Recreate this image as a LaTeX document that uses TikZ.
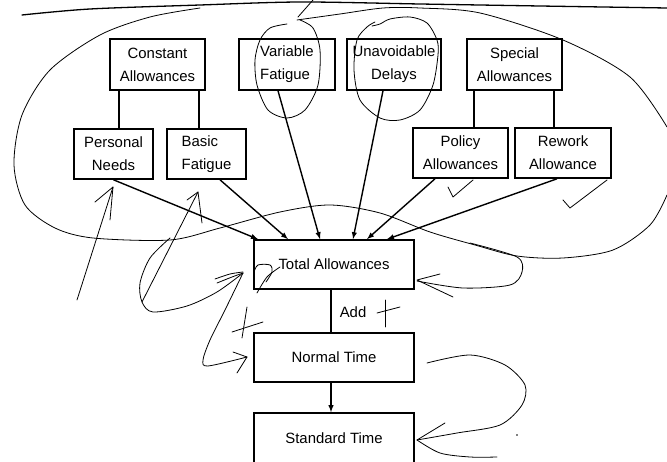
\documentclass[tikz,border=0pt]{standalone}
\usepackage{fontspec}
\setmainfont{Liberation Sans}
\usepackage{tikz}
\usetikzlibrary{shapes}

\begin{document}
\begin{tikzpicture}[x=1pt,y=-1pt,
      every node/.style={rectangle,draw,line width=1.6pt,align=center,
        font=\fontsize{14.9}{23}\selectfont,inner sep=0pt},
      topbox/.style={minimum width=95pt,minimum height=51pt},
      lowbox/.style={minimum width=160pt,minimum height=49pt},
      link/.style={line width=1.4pt},
      feed/.style={line width=1.4pt,-latex},
      scribble/.style={line width=0.8pt,line cap=round,line join=round}]
    \useasboundingbox (0,0) rectangle (667,462);
    % top row
    \node[topbox] (const) at (157.5,64.5) {Constant\\Allowances};
    \node[topbox,minimum width=96pt,align=left] (varfat) at (287,64.5) {Variable\\Fatigue};
    \node[topbox,minimum width=94pt] (unavoid) at (394,64.5) {Unavoidable\\Delays};
    \node[topbox] (special) at (514.5,64.5) {Special\\Allowances};
    % second row
    \node[topbox,minimum width=79pt,minimum height=50pt] (personal) at (113.5,154) {Personal\\Needs};
    \node[topbox,minimum width=79pt,minimum height=50pt,align=left] (basic) at (206.5,154) {Basic\\Fatigue};
    \node[topbox,minimum height=50pt] (policy) at (460.5,153) {Policy\\Allowances};
    \node[topbox,minimum width=96pt,minimum height=50pt] (rework) at (563,153) {Rework\\Allowance};
    % main column
    \node[lowbox] (total) at (334,264.5) {\raisebox{-4pt}{Total Allowances}};
    \node[lowbox] (normal) at (334,357.5) {Normal Time};
    \node[lowbox,minimum height=51pt] (standard) at (334,438.5) {Standard Time};
    \node[draw=none,anchor=west] (add) at (339,312) {Add};

    % tree lines
    \draw[link] ([xshift=5.5pt]personal.north) -- ([xshift=5.5pt]personal.north |- const.south);
    \draw[link] ([xshift=-7.5pt]basic.north) -- ([xshift=-7.5pt]basic.north |- const.south);
    \draw[link] ([xshift=13.5pt]policy.north) -- ([xshift=13.5pt]policy.north |- special.south);
    \draw[link] ([xshift=-9pt]rework.north) -- ([xshift=-9pt]rework.north |- special.south);

    % into total
    \draw[feed] (personal.south) -- ([xshift=-76pt]total.north);
    \draw[feed] ([xshift=13.5pt]basic.south) -- ([xshift=-46pt]total.north);
    \draw[feed] ([xshift=-9pt]varfat.south) -- ([xshift=-14pt]total.north);
    \draw[feed] ([xshift=-11pt]unavoid.south) -- ([xshift=19pt]total.north);
    \draw[feed] ([xshift=-25.5pt]policy.south) -- ([xshift=33pt]total.north);
    \draw[feed] ([xshift=-6pt]rework.south) -- ([xshift=53pt]total.north);
    \draw[link] ([xshift=-3pt]total.south) -- ([xshift=-3pt]normal.north);
    \draw[feed] ([xshift=-3pt]normal.south) -- ([xshift=-3pt]standard.north);

    % hand marks
    \draw[scribble,line width=1.3pt] plot[smooth] coordinates {(22,15) (90,9) (200,5) (300,2) (420,4) (540,6) (667,8)};
    \draw[scribble] plot[smooth] coordinates {(667,127) (630,77) (563,40) (480,13) (420,8) (383,8) (340,14) (297,20)};
    \draw[scribble] plot[smooth] coordinates {(200,8) (150,17) (100,35) (50,70) (22,115) (14,165) (25,205) (55,228) (93,238) (170,240) (220,228) (280,212) (330,205) (380,213) (430,232) (475,245) (517,256) (563,258) (613,250) (650,225) (667,195)};
    \draw[scribble] plot[smooth] coordinates {(470,243) (517,257) (522,272) (510,285) (463,288) (417,281)};
    \draw[scribble] (440,274) -- (417,280) -- (453,297);
    \draw[scribble] (298,17) -- (313,0);
    \draw[scribble] plot[smooth] coordinates {(300,20) (313,28) (320,50) (318,85) (305,110) (287,118) (268,110) (257,85) (255,60) (260,40) (270,28) (287,24)};
    \draw[scribble] plot[smooth] coordinates {(375,22) (367,27) (357,40) (354,70) (360,100) (380,118) (400,120) (420,110) (433,85) (438,55) (437,40) (427,23) (410,17) (390,19) (380,24) (372,26)};
    \draw[scribble] (448,187) -- (453,197) -- (473,180);
    \draw[scribble] (563,200) -- (570,208) -- (607,180);
    \draw[scribble] (77,300) -- (113,187);
    \draw[scribble] (95,202) -- (113,187) -- (110,220);
    \draw[scribble] (198,192) -- (142,302);
    \draw[scribble] (187,200) -- (198,192) -- (202,223);
    \draw[scribble] plot[smooth] coordinates {(170,238) (150,258) (140,283) (142,302) (153,312) (187,306) (217,292) (243,273)};
    \draw[scribble] plot[smooth] coordinates {(215,279) (230,274) (243,272)};
    \draw[scribble] plot[smooth] coordinates {(217,283) (232,277) (243,273)};
    \draw[scribble] plot[smooth] coordinates {(243,273) (225,310) (210,340) (203,360) (208,366) (247,357)};
    \draw[scribble] (233,352) -- (247,357) -- (237,373);
    \draw[scribble] plot[smooth] coordinates {(257,293) (267,277) (280,267)};
    \draw[scribble] plot[smooth] coordinates {(254,272) (258,265) (270,265) (272,272) (266,282)};
    \draw[scribble] (247,307) -- (242,338);
    \draw[scribble] (232,332) -- (263,322);
    \draw[scribble] (385,300) -- (385,327);
    \draw[scribble] (377,313) -- (400,307);
    \draw[scribble] plot[smooth] coordinates {(427,363) (470,355) (505,365) (525,385) (522,405) (500,425) (457,433) (417,440)};
    \draw[scribble] (417,440) -- (445,423);
    \draw[scribble] plot[smooth] coordinates {(417,440) (440,453) (470,457) (497,457)};
    \fill (517,435) circle (0.8pt);
  \end{tikzpicture}
\end{document}
